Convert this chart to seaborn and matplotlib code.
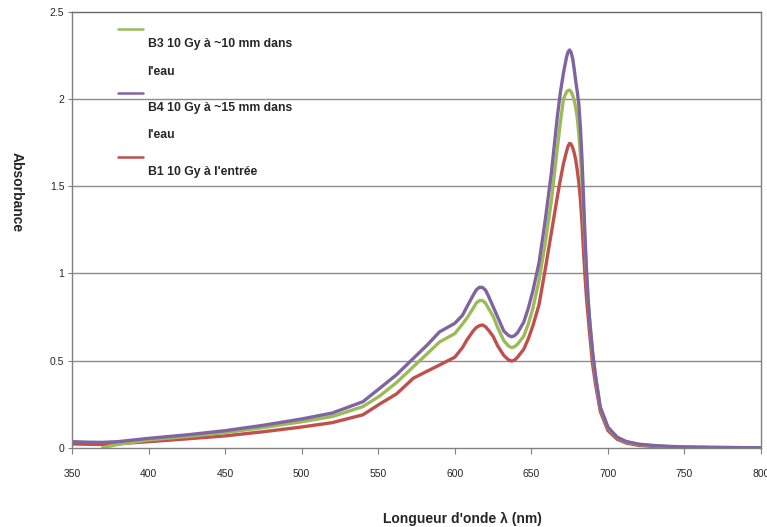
import numpy as np
import pandas as pd
import matplotlib
matplotlib.use("Agg")
import matplotlib.pyplot as plt
import seaborn as sns
from matplotlib.lines import Line2D

wavelength = [350, 360, 370, 380, 400, 425, 450, 475, 500, 520,
              540, 551, 562, 573, 582, 590, 600, 605, 608, 612,
              614, 616, 618, 620, 622, 625, 628, 632, 635, 637,
              639, 641, 645, 648, 651, 655, 659, 663, 667, 669,
              671, 673, 674, 675, 676, 677, 678, 679, 680, 681,
              682, 683, 684, 685, 686, 687, 688, 690, 692, 695,
              700, 706, 712, 720, 730, 740, 750, 770, 800]

b4_purple = [0.036, 0.033, 0.032, 0.036, 0.055, 0.075, 0.099, 0.130, 0.166, 0.200,
             0.265, 0.342, 0.420, 0.514, 0.590, 0.665, 0.714, 0.760, 0.810, 0.875,
             0.905, 0.920, 0.920, 0.905, 0.870, 0.810, 0.750, 0.670, 0.645, 0.637,
             0.643, 0.660, 0.720, 0.800, 0.900, 1.060, 1.300, 1.570, 1.900, 2.040,
             2.150, 2.240, 2.270, 2.280, 2.265, 2.230, 2.170, 2.100, 2.040, 1.970,
             1.840, 1.670, 1.450, 1.220, 1.020, 0.860, 0.740, 0.550, 0.410, 0.235,
             0.120, 0.062, 0.037, 0.022, 0.014, 0.009, 0.006, 0.003, 0.001]

b3_green = [np.nan, np.nan, 0.002, 0.020, 0.046, 0.066, 0.088, 0.117, 0.150, 0.180,
            0.237, 0.298, 0.375, 0.466, 0.540, 0.607, 0.655, 0.710, 0.745, 0.800,
            0.830, 0.844, 0.845, 0.830, 0.800, 0.755, 0.690, 0.615, 0.585, 0.575,
            0.580, 0.595, 0.640, 0.710, 0.800, 0.960, 1.170, 1.410, 1.720, 1.870,
            2.000, 2.040, 2.048, 2.050, 2.040, 2.020, 1.990, 1.950, 1.890, 1.800,
            1.680, 1.540, 1.370, 1.180, 1.010, 0.860, 0.740, 0.540, 0.400, 0.230,
            0.115, 0.060, 0.034, 0.020, 0.012, 0.008, 0.005, 0.003, 0.001]

b1_red = [0.023, 0.021, 0.020, 0.024, 0.036, 0.052, 0.069, 0.093, 0.120, 0.145,
          0.190, 0.252, 0.310, 0.400, 0.440, 0.475, 0.520, 0.575, 0.620, 0.670,
          0.690, 0.700, 0.705, 0.695, 0.675, 0.640, 0.585, 0.530, 0.505, 0.498,
          0.503, 0.520, 0.565, 0.625, 0.700, 0.820, 1.020, 1.230, 1.440, 1.540,
          1.630, 1.700, 1.730, 1.745, 1.740, 1.720, 1.690, 1.650, 1.590, 1.520,
          1.430, 1.300, 1.140, 0.990, 0.860, 0.760, 0.660, 0.480, 0.360, 0.210,
          0.100, 0.050, 0.028, 0.015, 0.008, 0.005, 0.003, 0.002, 0.001]

series_labels = ["B3 10 Gy à ~10 mm dans\n\nl'eau",
                 "B4 10 Gy à ~15 mm dans\n\nl'eau",
                 "B1 10 Gy à l'entrée"]
series_colors = ["#9BBB59", "#8064A2", "#C0504D"]
x_ticks = [350, 400, 450, 500, 550, 600, 650, 700, 750, 800]
y_ticks = [0, 0.5, 1, 1.5, 2, 2.5]
y_tick_labels = ["0", "0.5", "1", "1.5", "2", "2.5"]

frames = []
for lab, vals in zip(series_labels, [b3_green, b4_purple, b1_red]):
    frames.append(pd.DataFrame({"wl": wavelength, "abs": vals, "serie": lab}))
df = pd.concat(frames, ignore_index=True).dropna()

sns.set_style("white")
plt.rcParams["font.family"] = ["Liberation Sans", "DejaVu Sans"]

fig = plt.figure(figsize=(7.67, 5.27), dpi=100)
ax = fig.add_axes([0.0939, 0.15, 0.8983, 0.828])

pal = dict(zip(series_labels, series_colors))
order_draw = [series_labels[2], series_labels[0], series_labels[1]]
for lab in order_draw:
    sns.lineplot(data=df[df["serie"] == lab], x="wl", y="abs", color=pal[lab],
                 linewidth=2.4, ax=ax, legend=False, sort=False)

ax.set_xlim(350, 800)
ax.set_ylim(0, 2.5)
ax.set_xticks(x_ticks)
ax.set_xticklabels([str(v) for v in x_ticks])
ax.set_yticks(y_ticks)
ax.set_yticklabels(y_tick_labels)

for y in y_ticks[1:-1]:
    ax.axhline(y, color="#8c8c8c", linewidth=1.0, zorder=0)

for sp in ax.spines.values():
    sp.set_color("#808080")
    sp.set_linewidth(1.0)
ax.spines["top"].set_color("#6a6a6a")

ax.tick_params(axis="x", direction="out", length=4, width=0.8, color="#808080",
               pad=11, labelsize=7.5, bottom=True)
ax.tick_params(axis="y", direction="out", length=3, width=0.8, color="#808080",
               pad=2.5, labelsize=7.5, left=True)

ax.set_xlabel("Longueur d'onde λ (nm)", fontsize=10, fontweight="bold")
ax.set_ylabel("Absorbance", fontsize=10, fontweight="bold", rotation=270, va="center")
ax.xaxis.set_label_coords(0.566, -0.147)
ax.yaxis.set_label_coords(-0.081, 0.586)

handles = [Line2D([], [], color=c, linewidth=1.8) for c in series_colors]
leg_labels = ["\n" + l for l in series_labels]
leg = ax.legend(handles, leg_labels, loc="upper left", bbox_to_anchor=(0.067, 0.971),
                frameon=False, borderpad=0, borderaxespad=0, handlelength=2.0,
                handleheight=1.0, handletextpad=0.4, labelspacing=0.85,
                prop={"family": "Liberation Sans", "weight": "bold", "size": 8.8})
for col in leg._legend_handle_box.get_children():
    for item in col.get_children():
        item.align = "top"

fig.savefig("out.png", dpi=100)
